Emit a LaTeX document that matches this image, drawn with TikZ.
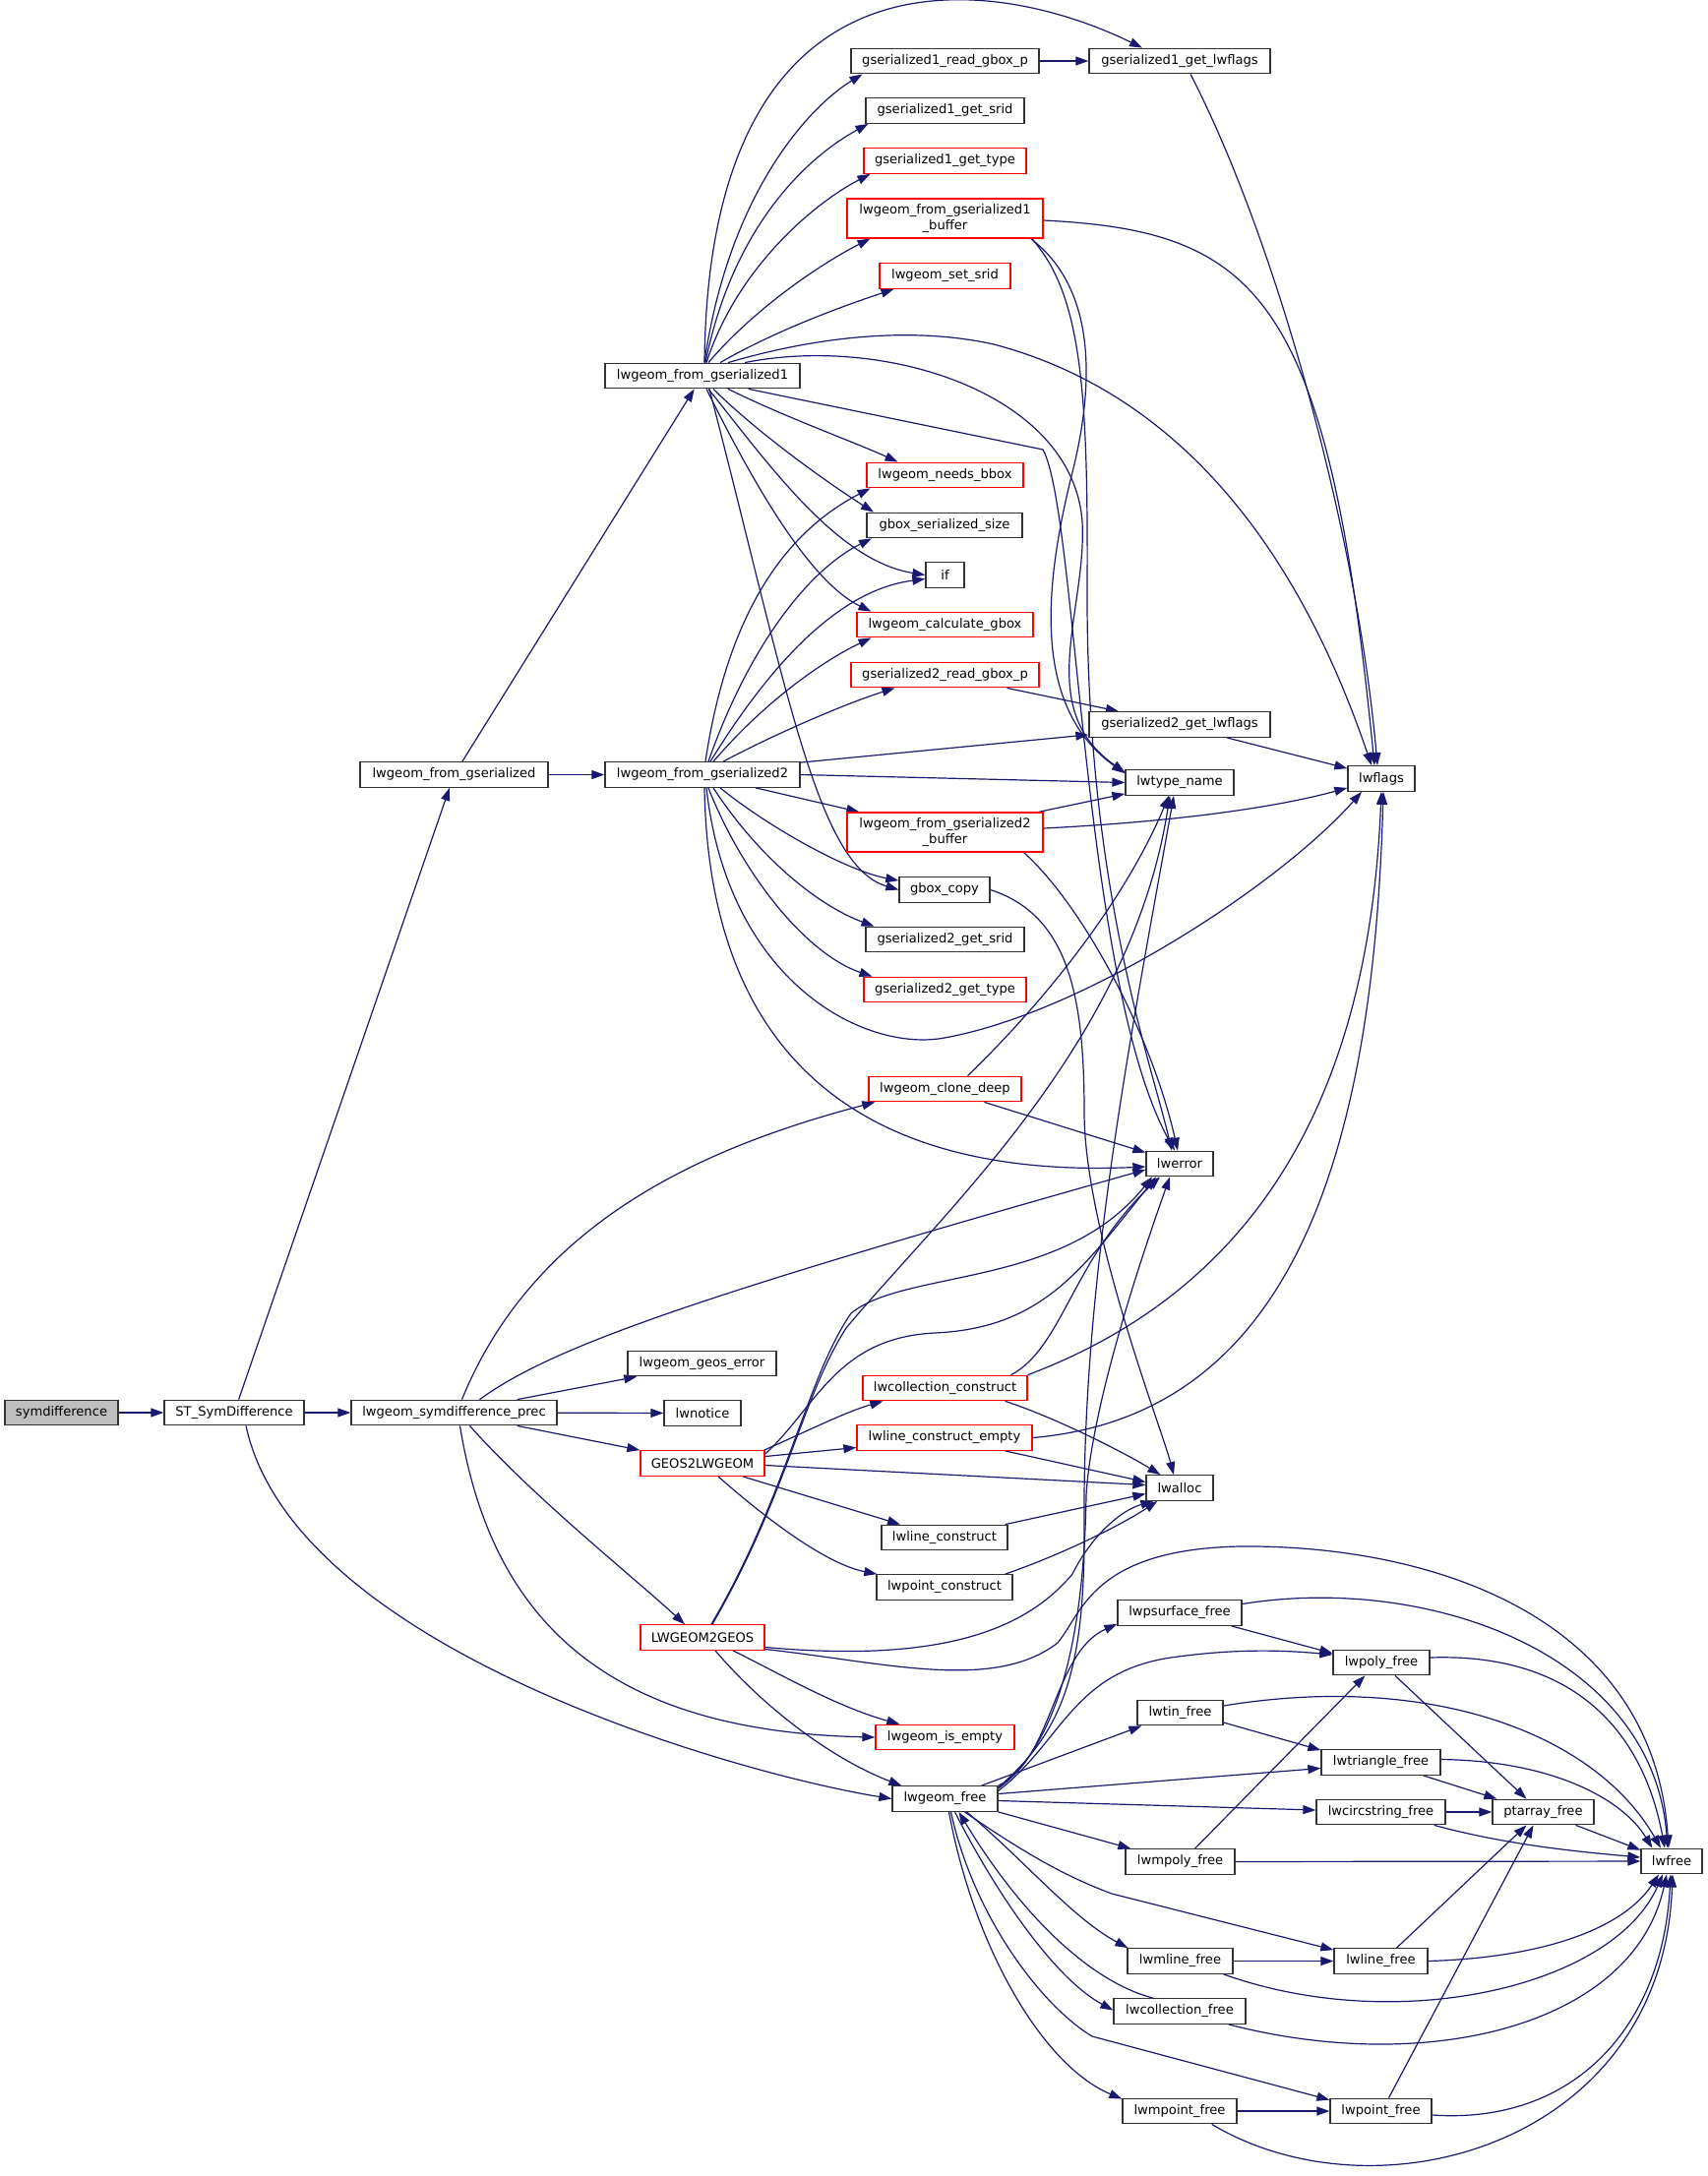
\documentclass[tikz,border=0pt]{standalone}
\usepackage{fontspec}
\setmainfont{DejaVu Sans}
\usetikzlibrary{arrows.meta,calc,backgrounds}
\definecolor{midblue}{HTML}{191970}
\definecolor{greyfill}{HTML}{BFBFBF}
\tikzset{
  nbox/.style={draw=black!80, line width=1.3pt, fill=white, inner sep=0pt, minimum height=25.5pt, font=\fontsize{13.1}{15.5}\selectfont, text=black, align=center},
  rbox/.style={nbox, draw=red},
  gbox/.style={nbox, fill=greyfill},
  edg/.style={draw=midblue, line width=1.2pt, -{Triangle[length=13pt,width=9pt]}}
}
\begin{document}
\begin{tikzpicture}[x=1pt,y=-1pt]
\useasboundingbox (0,0) rectangle (1736,2212);
% nodes
\node[gbox, minimum width=115] (sym) at (62.5,1436) {symdifference};
\node[nbox, minimum width=142] (st) at (238,1436) {ST\_SymDifference};
\node[nbox, minimum width=209] (prec) at (461.5,1436) {lwgeom\_symdifference\_prec};
\node[nbox, minimum width=191] (fgs) at (461.5,787.5) {lwgeom\_from\_gserialized};
\node[nbox, minimum width=198] (fg1) at (714,382) {lwgeom\_from\_gserialized1};
\node[nbox, minimum width=198] (fg2) at (714,787.5) {lwgeom\_from\_gserialized2};
\node[nbox, minimum width=191] (r1) at (960.5,62) {gserialized1\_read\_gbox\_p};
\node[nbox, minimum width=184] (l1) at (1199,62) {gserialized1\_get\_lwflags};
\node[nbox, minimum width=161] (s1) at (960.5,112.5) {gserialized1\_get\_srid};
\node[rbox, minimum width=165] (t1) at (960.5,163.5) {gserialized1\_get\_type};
\node[rbox, minimum width=199, minimum height=40] (b1) at (960.5,222) {lwgeom\_from\_gserialized1\\\_buffer};
\node[rbox, minimum width=133] (ss) at (960.5,280.5) {lwgeom\_set\_srid};
\node[rbox, minimum width=159] (nb) at (960.5,483) {lwgeom\_needs\_bbox};
\node[nbox, minimum width=158] (gss) at (960,534) {gbox\_serialized\_size};
\node[nbox, minimum width=39] (iff) at (960.5,584.5) {if};
\node[rbox, minimum width=179] (cg) at (960.5,635) {lwgeom\_calculate\_gbox};
\node[rbox, minimum width=191] (r2) at (960.5,686) {gserialized2\_read\_gbox\_p};
\node[nbox, minimum width=184] (l2) at (1199,736.5) {gserialized2\_get\_lwflags};
\node[nbox, minimum width=110] (lwt) at (1199,795.5) {lwtype\_name};
\node[nbox, minimum width=68] (lwf) at (1404,791.5) {lwflags};
\node[rbox, minimum width=199, minimum height=40] (b2) at (960.5,846) {lwgeom\_from\_gserialized2\\\_buffer};
\node[nbox, minimum width=92] (gc) at (960,904.5) {gbox\_copy};
\node[nbox, minimum width=161] (s2) at (960.5,955) {gserialized2\_get\_srid};
\node[rbox, minimum width=165] (t2) at (960.5,1006) {gserialized2\_get\_type};
\node[rbox, minimum width=155] (cd) at (960.5,1107) {lwgeom\_clone\_deep};
\node[nbox, minimum width=68] (err) at (1199,1183) {lwerror};
\node[nbox, minimum width=151] (ge) at (713.5,1386) {lwgeom\_geos\_error};
\node[nbox, minimum width=78] (ntc) at (714,1436.5) {lwnotice};
\node[rbox, minimum width=126] (g2l) at (714,1487.5) {GEOS2LWGEOM};
\node[rbox, minimum width=167] (lcc) at (960.5,1411) {lwcollection\_construct};
\node[rbox, minimum width=178] (lce) at (960,1461.5) {lwline\_construct\_empty};
\node[nbox, minimum width=68] (alc) at (1199,1512.5) {lwalloc};
\node[nbox, minimum width=128] (lc) at (960,1563) {lwline\_construct};
\node[nbox, minimum width=138] (pc) at (960,1613.5) {lwpoint\_construct};
\node[rbox, minimum width=126] (l2g) at (714,1664.5) {LWGEOM2GEOS};
\node[nbox, minimum width=126] (psf) at (1199,1639.5) {lwpsurface\_free};
\node[nbox, minimum width=98] (pyf) at (1404,1690) {lwpoly\_free};
\node[nbox, minimum width=87] (tnf) at (1199.5,1741) {lwtin\_free};
\node[rbox, minimum width=141] (ie) at (960.5,1766) {lwgeom\_is\_empty};
\node[nbox, minimum width=121] (trf) at (1403.5,1791.5) {lwtriangle\_free};
\node[nbox, minimum width=107] (gf) at (960.5,1828.5) {lwgeom\_free};
\node[nbox, minimum width=131] (csf) at (1403.5,1842) {lwcircstring\_free};
\node[nbox, minimum width=103] (paf) at (1568.5,1842) {ptarray\_free};
\node[nbox, minimum width=111] (mpyf) at (1199.5,1892.5) {lwmpoly\_free};
\node[nbox, minimum width=62] (fr) at (1699,1892) {lwfree};
\node[nbox, minimum width=107] (mlf) at (1199.5,1993.5) {lwmline\_free};
\node[nbox, minimum width=95] (lf) at (1403.5,1993.5) {lwline\_free};
\node[nbox, minimum width=134] (cf) at (1199,2044.5) {lwcollection\_free};
\node[nbox, minimum width=116] (mptf) at (1199,2146) {lwmpoint\_free};
\node[nbox, minimum width=103] (ptf) at (1403.5,2146) {lwpoint\_free};
% edges
\begin{pgfonlayer}{background}
\draw[edg] (sym) -- (st);
\draw[edg] (st) -- (prec);
\draw[edg] (st) -- (fgs);
\draw[edg] ($(st.south)+(12,0)$) .. controls (300,1680) and (760,1805) .. (gf.west);
\draw[edg] (fgs) -- (fg1);
\draw[edg] (fgs) -- (fg2);
% fg1 top
\draw[edg] ($(fg1.north)+(2,0)$) .. controls (720,-60) and (1000,-30) .. ($(l1.north)+(-38,0)$);
\draw[edg] ($(fg1.north)+(2,0)$) .. controls (740,200) and (820,110) .. ($(r1.south)+(-84,0)$);
\draw[edg] ($(fg1.north)+(3,0)$) .. controls (745,230) and (820,160) .. ($(s1.south)+(-78,0)$);
\draw[edg] ($(fg1.north)+(4,0)$) .. controls (750,270) and (830,205) .. ($(t1.south)+(-76,0)$);
\draw[edg] ($(fg1.north)+(6,0)$) .. controls (770,310) and (840,265) .. ($(b1.south)+(-76,0)$);
\draw[edg] ($(fg1.north)+(18,0)$) .. controls (790,335) and (860,310) .. ($(ss.south)+(-52,0)$);
\draw[edg] ($(fg1.north)+(26,0)$) .. controls (820,345) and (920,330) .. (1010,350) .. controls (1200,400) and (1320,560) .. ($(lwf.north)+(-10,0)$);
\draw[edg] ($(fg1.north)+(43,0)$) .. controls (900,340) and (1090,400) .. (1100,530) .. controls (1105,620) and (1050,720) .. ($(lwt.north west)+(0,3)$);
\draw[edg] ($(b1.south east)+(-13,0)$) .. controls (1110,290) and (1115,380) .. (1090,480) .. controls (1060,600) and (1050,720) .. ($(lwt.north west)+(0,4)$);
\draw[edg] ($(b1.south east)+(-12,0)$) .. controls (1100,300) and (1106,400) .. (1105,600) .. controls (1104,900) and (1170,1080) .. ($(err.north)+(-8,0)$);
\draw[edg] ($(fg1.south east)+(-53,0)$) -- (1060,457) .. controls (1095,520) and (1100,1000) .. ($(err.north)+(-5,0)$);
% fg1 bottom
\draw[edg] ($(fg1.south)+(26,0)$) .. controls (800,425) and (870,450) .. ($(nb.north)+(-48,0)$);
\draw[edg] ($(fg1.south)+(11,0)$) .. controls (770,440) and (840,490) .. ($(gss.north)+(-72,0)$);
\draw[edg] ($(fg1.south)+(6,0)$) .. controls (780,470) and (850,570) .. (iff.west);
\draw[edg] ($(fg1.south)+(4,0)$) .. controls (760,480) and (820,590) .. ($(cg.north)+(-75,0)$);
\draw[edg] ($(fg1.south)+(7,0)$) .. controls (800,700) and (830,880) .. (gc.west);
% fg2 top
\draw[edg] ($(fg2.north)+(3,0)$) .. controls (740,620) and (800,540) .. ($(nb.south)+(-76,0)$);
\draw[edg] ($(fg2.north)+(6,0)$) .. controls (760,660) and (820,580) .. ($(gss.south)+(-74,0)$);
\draw[edg] ($(fg2.north)+(8,0)$) .. controls (780,680) and (850,600) .. ($(iff.west)+(0,4)$);
\draw[edg] ($(fg2.north)+(11,0)$) .. controls (780,710) and (840,670) .. ($(cg.south)+(-75,0)$);
\draw[edg] ($(fg2.north)+(21,0)$) .. controls (790,745) and (860,715) .. ($(r2.south)+(-51,0)$);
\draw[edg] ($(fg2.north east)+(0,1)$) -- ($(l2.south west)+(0,-3)$);
\draw[edg] (fg2.east) -- (lwt.west);
% fg2 bottom
\draw[edg] ($(fg2.south)+(54,0)$) -- ($(b2.north west)+(13,0)$);
\draw[edg] ($(fg2.south)+(18,0)$) .. controls (780,840) and (860,885) .. ($(gc.north west)+(0,4)$);
\draw[edg] ($(fg2.south)+(11,0)$) .. controls (770,870) and (830,920) .. ($(s2.north)+(-72,0)$);
\draw[edg] ($(fg2.south)+(6,0)$) .. controls (755,890) and (820,970) .. ($(t2.north)+(-74,0)$);
\draw[edg] ($(fg2.south)+(4,0)$) .. controls (740,1000) and (880,1070) .. (960,1055) .. controls (1100,1030) and (1300,900) .. ($(lwf.south)+(-20,0)$);
\draw[edg] ($(fg2.south)+(2,0)$) .. controls (720,1050) and (850,1200) .. ($(err.west)+(0,3)$);
% gserialized helpers
\draw[edg] (r1) -- (l1);
\draw[edg] ($(l1.south)+(11,0)$) .. controls (1300,250) and (1380,550) .. ($(lwf.north)+(-4,0)$);
\draw[edg] ($(b1.east)+(0,2)$) .. controls (1280,235) and (1350,300) .. ($(lwf.north)+(-7,0)$);
\draw[edg] ($(r2.south)+(63,0)$) -- ($(l2.north)+(-62,0)$);
\draw[edg] ($(l2.south)+(48,0)$) -- ($(lwf.north west)+(0,3)$);
\draw[edg] ($(b2.north east)+(-5,0)$) -- ($(lwt.south west)+(0,-2)$);
\draw[edg] ($(b2.east)+(0,-4)$) .. controls (1200,835) and (1300,820) .. ($(lwf.south west)+(0,-4)$);
\draw[edg] ($(b2.south east)+(-20,0)$) .. controls (1100,920) and (1170,1050) .. ($(err.north)+(-2,0)$);
\draw[edg] (gc.east) .. controls (1085,930) and (1102,1010) .. (1102,1130) .. controls (1102,1250) and (1180,1450) .. ($(alc.north)+(-6,0)$);
\draw[edg] ($(cd.north)+(23,0)$) .. controls (1080,1000) and (1150,900) .. ($(lwt.south)+(-11,0)$);
\draw[edg] ($(cd.south)+(40,0)$) -- ($(err.north west)+(0,2)$);
% symdifference_prec
\draw[edg] ($(prec.north)+(8,0)$) .. controls (540,1250) and (700,1170) .. ($(cd.south west)+(7,0)$);
\draw[edg] ($(prec.north)+(26,0)$) .. controls (560,1370) and (700,1320) .. ($(err.west)+(0,6)$);
\draw[edg] ($(prec.north east)+(-41,0)$) -- ($(ge.south west)+(10,0)$);
\draw[edg] (prec) -- (ntc);
\draw[edg] ($(prec.south east)+(-41,0)$) -- (g2l.north west);
\draw[edg] ($(prec.south)+(16,0)$) .. controls (540,1520) and (640,1600) .. ($(l2g.north)+(-18,0)$);
\draw[edg] ($(prec.south)+(6,0)$) .. controls (500,1650) and (620,1760) .. (ie.west);
% GEOS2LWGEOM
\draw[edg] ($(g2l.north east)+(-1,0)$) .. controls (820,1455) and (860,1435) .. ($(lcc.south west)+(21,0)$);
\draw[edg] ($(g2l.east)+(0,-7)$) -- ($(lce.west)+(0,10)$);
\draw[edg] ($(g2l.east)+(0,2)$) -- ($(alc.west)+(0,-3)$);
\draw[edg] ($(g2l.south)+(41,0)$) -- ($(lc.north)+(-45,0)$);
\draw[edg] ($(g2l.south)+(16,0)$) .. controls (780,1545) and (840,1590) .. ($(pc.north west)+(1,0)$);
\draw[edg] ($(g2l.north east)+(0,4)$) .. controls (830,1430) and (850,1360) .. (950,1355) .. controls (1060,1350) and (1100,1290) .. ($(err.south)+(-24,0)$);
% LWGEOM2GEOS
\draw[edg] ($(l2g.north)+(10,0)$) .. controls (800,1520) and (815,1420) .. (860,1350) .. controls (960,1230) and (1150,1060) .. ($(lwt.south)+(-10,0)$);
\draw[edg] ($(l2g.north)+(9,0)$) .. controls (800,1520) and (820,1400) .. (865,1335) .. controls (920,1290) and (1080,1310) .. ($(err.south)+(-28,0)$);
\draw[edg] ($(l2g.east)+(0,10)$) .. controls (950,1690) and (1040,1660) .. (1090,1600) .. controls (1110,1560) and (1140,1535) .. ($(alc.south west)+(8,0)$);
\draw[edg] ($(l2g.east)+(0,12)$) .. controls (900,1690) and (1010,1720) .. (1075,1670) .. controls (1100,1640) and (1110,1575) .. (1260,1572) .. controls (1450,1570) and (1680,1640) .. ($(fr.north)+(-3,0)$);
\draw[edg] ($(l2g.south)+(31,0)$) .. controls (790,1700) and (850,1735) .. ($(ie.north west)+(25,0)$);
\draw[edg] ($(l2g.south)+(13,0)$) .. controls (780,1740) and (850,1790) .. ($(gf.north west)+(10,0)$);
% constructors
\draw[edg] ($(lcc.north east)+(-17,0)$) .. controls (1080,1370) and (1090,1280) .. ($(err.south)+(-20,0)$);
\draw[edg] (lcc.north east) .. controls (1250,1320) and (1390,1150) .. (lwf.south);
\draw[edg] ($(lcc.south east)+(-23,0)$) .. controls (1070,1440) and (1140,1475) .. ($(alc.north west)+(15,0)$);
\draw[edg] (lce.east) .. controls (1300,1440) and (1395,1200) .. ($(lwf.south)+(2,0)$);
\draw[edg] ($(lce.south east)+(-28,0)$) -- ($(alc.west)+(0,-6)$);
\draw[edg] ($(lc.north east)+(-3,0)$) -- ($(alc.west)+(0,6)$);
\draw[edg] ($(pc.north east)+(-8,0)$) .. controls (1080,1580) and (1140,1550) .. ($(alc.south west)+(12,0)$);
% lwgeom_free
\draw[edg] (gf.north east) .. controls (1070,1790) and (1070,1680) .. ($(psf.south west)+(0,-2)$);
\draw[edg] ($(gf.east)+(0,-8)$) .. controls (1080,1770) and (1090,1700) .. (1190,1685) .. controls (1260,1675) and (1310,1678) .. ($(pyf.west)+(0,-8)$);
\draw[edg] ($(gf.north east)+(-17,0)$) -- ($(tnf.south west)+(5,0)$);
\draw[edg] ($(gf.east)+(0,-5)$) -- ($(trf.west)+(0,6)$);
\draw[edg] ($(gf.east)+(0,2)$) -- ($(csf.west)+(0,-2)$);
\draw[edg] (gf.south east) -- ($(mpyf.north west)+(6,0)$);
\draw[edg] ($(gf.north east)+(0,2)$) .. controls (1080,1760) and (1103,1700) .. (1102,1550) .. controls (1100,1300) and (1150,1050) .. ($(lwt.south)+(-6,0)$);
\draw[edg] ($(gf.north east)+(0,3)$) .. controls (1080,1770) and (1102,1650) .. (1104,1520) .. controls (1110,1420) and (1170,1250) .. ($(err.south)+(-10,0)$);
\draw[edg] ($(gf.south)+(20,0)$) .. controls (1050,1890) and (1090,1910) .. (1130,1925) -- ($(lf.north west)+(0,2)$);
\draw[edg] ($(gf.south)+(22,0)$) .. controls (1040,1890) and (1090,1950) .. ($(mlf.north west)+(1,0)$);
\draw[edg] ($(gf.south)+(10,0)$) .. controls (1010,1920) and (1070,2010) .. ($(cf.west)+(0,-1)$);
\draw[edg] ($(cf.north)+(-27,0)$) .. controls (1110,2015) and (1040,1950) .. ($(gf.south)+(14,0)$);
\draw[edg] ($(gf.south)+(6,0)$) .. controls (990,1950) and (1060,2040) .. (1110,2070) -- ($(ptf.north west)+(0,2)$);
\draw[edg] ($(gf.south)+(4,0)$) .. controls (990,1980) and (1060,2100) .. ($(mptf.north west)+(0,1)$);
% free functions
\draw[edg] ($(psf.south east)+(-11,0)$) -- ($(pyf.north west)+(0,4)$);
\draw[edg] ($(psf.east)+(0,-9)$) .. controls (1450,1600) and (1680,1680) .. ($(fr.north)+(-4,0)$);
\draw[edg] ($(pyf.south)+(14,0)$) -- ($(paf.north)+(-17,0)$);
\draw[edg] ($(pyf.east)+(0,-5)$) .. controls (1600,1680) and (1670,1760) .. ($(fr.north)+(-7,0)$);
\draw[edg] ($(tnf.east)+(0,10)$) -- ($(trf.north west)+(0,1)$);
\draw[edg] ($(tnf.east)+(0,-7)$) .. controls (1450,1700) and (1620,1760) .. ($(fr.north)+(-11,0)$);
\draw[edg] ($(trf.south east)+(-18,0)$) -- ($(paf.north west)+(5,0)$);
\draw[edg] ($(trf.east)+(0,-3)$) .. controls (1580,1790) and (1650,1830) .. ($(fr.north west)+(12,0)$);
\draw[edg] (csf) -- (paf);
\draw[edg] ($(csf.south east)+(-12,0)$) .. controls (1530,1875) and (1600,1882) .. ($(fr.west)+(0,-4)$);
\draw[edg] ($(paf.south east)+(-19,0)$) -- ($(fr.north west)+(0,2)$);
\draw[edg] ($(mpyf.north)+(15,0)$) -- ($(pyf.south west)+(33,0)$);
\draw[edg] (mpyf) -- (fr);
\draw[edg] ($(lf.north)+(16,0)$) -- ($(paf.south)+(-17,0)$);
\draw[edg] (lf.east) .. controls (1570,1990) and (1650,1960) .. ($(fr.south)+(-13,0)$);
\draw[edg] (mlf) -- (lf);
\draw[edg] ($(mlf.south east)+(-10,0)$) .. controls (1420,2070) and (1640,2020) .. ($(fr.south)+(-9,0)$);
\draw[edg] ($(cf.south east)+(-18,0)$) .. controls (1450,2110) and (1660,2060) .. ($(fr.south)+(-5,0)$);
\draw[edg] ($(ptf.north)+(8,0)$) -- ($(paf.south)+(-10,0)$);
\draw[edg] ($(ptf.east)+(0,4)$) .. controls (1600,2160) and (1690,2060) .. ($(fr.south)+(-1,0)$);
\draw[edg] (mptf) -- (ptf);
\draw[edg] ($(mptf.south east)+(-26,0)$) .. controls (1400,2260) and (1690,2180) .. ($(fr.south)+(1,0)$);
\end{pgfonlayer}
\end{tikzpicture}
\end{document}
